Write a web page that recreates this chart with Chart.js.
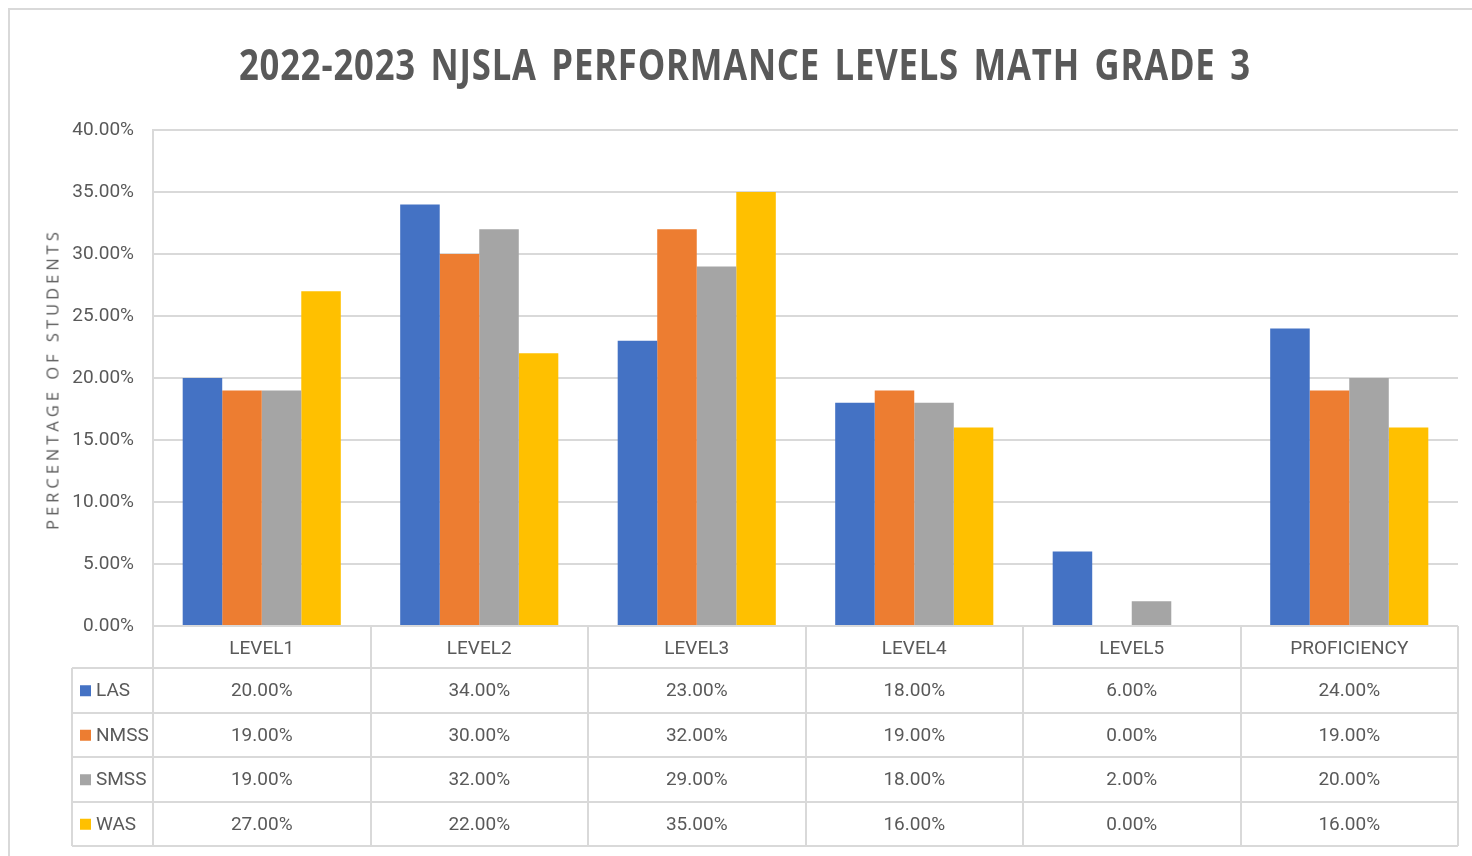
<!DOCTYPE html>
<html lang="en">
<head>
  <meta charset="UTF-8">
  <title>2022-2023 NJSLA Performance Levels Math Grade 3</title>
  <script src="https://cdn.jsdelivr.net/npm/chart.js"></script>
  <style>
    html, body {
      margin: 0;
      padding: 0;
      background: #ffffff;
      overflow: hidden;
    }

    .frame {
      position: absolute;
      left: 8px;
      top: 8px;
      width: 1500px;
      height: 900px;
      border-left: 2px solid #d9d9d9;
      border-top: 2px solid #d9d9d9;
    }

    #chartWrap {
      position: absolute;
      left: 0;
      top: 0;
      width: 1472px;
      height: 856px;
    }

    .title {
      position: absolute;
      top: 34px;
      left: 0;
      width: 1490px;
      text-align: center;
      font-family: "Open Sans", sans-serif;
      font-weight: bold;
      font-size: 43px;
      color: #595959;
      white-space: nowrap;
    }

    .title span {
      display: inline-block;
      letter-spacing: 1px;
      word-spacing: 6px;
      transform-origin: center;
    }

    .ytitle {
      position: absolute;
      left: 52px;
      top: 379px;
      transform: translate(-50%, -50%) rotate(-90deg);
      font-family: "Open Sans", sans-serif;
      font-size: 16.5px;
      letter-spacing: 4px;
      color: #595959;
      white-space: nowrap;
    }
  </style>
</head>
<body>
  <div class="frame"></div>
  <div id="chartWrap"><canvas id="mathChart" width="1472" height="856"></canvas></div>
  <div class="title"><span id="titleText">2022-2023 NJSLA PERFORMANCE LEVELS MATH GRADE 3</span></div>
  <div class="ytitle">PERCENTAGE OF STUDENTS</div>

  <script>
    const categories = ['LEVEL1', 'LEVEL2', 'LEVEL3', 'LEVEL4', 'LEVEL5', 'PROFICIENCY'];
    const las  = [20, 34, 23, 18, 6, 24];
    const nmss = [19, 30, 32, 19, 0, 19];
    const smss = [19, 32, 29, 18, 2, 20];
    const was  = [27, 22, 35, 16, 0, 16];
    const yTicks = [0, 5, 10, 15, 20, 25, 30, 35, 40];

    const textColor = '#595959';
    const lineColor = '#d9d9d9';
    const fontFamily = '"Liberation Sans Narrow", "Roboto", sans-serif';
    const tableFont = '19px ' + fontFamily;

    // squeeze the title to the width it has in the original
    const titleSpan = document.getElementById('titleText');
    const wanted = 1012;
    titleSpan.style.transform = `scaleX(${wanted / titleSpan.offsetWidth})`;

    const fmt = v => v.toFixed(2) + '%';

    // data table under the plot, columns follow the x scale
    const dataTable = {
      id: 'dataTable',
      afterDraw(chart) {
        const ctx = chart.ctx;
        const x = chart.scales.x;
        const area = chart.chartArea;
        const step = x.getPixelForValue(1) - x.getPixelForValue(0);
        const left = x.getPixelForValue(0) - step / 2;
        const right = x.getPixelForValue(categories.length - 1) + step / 2;
        const headTop = area.bottom;
        const headBottom = headTop + 42;
        const rowH = 44.5;
        const legendLeft = 72;
        const rows = chart.data.datasets;
        const tableBottom = headBottom + rowH * rows.length;

        ctx.save();
        ctx.strokeStyle = lineColor;
        ctx.lineWidth = 2;
        ctx.beginPath();
        // verticals between the categories
        for (let i = 0; i <= categories.length; i++) {
          const xx = Math.round(left + i * step);
          ctx.moveTo(xx, headTop);
          ctx.lineTo(xx, tableBottom);
        }
        ctx.moveTo(legendLeft, headBottom);
        ctx.lineTo(legendLeft, tableBottom);
        // horizontals
        for (let r = 0; r <= rows.length; r++) {
          const yy = Math.round(headBottom + r * rowH);
          ctx.moveTo(legendLeft, yy);
          ctx.lineTo(right, yy);
        }
        ctx.stroke();

        ctx.font = tableFont;
        ctx.fillStyle = textColor;
        ctx.textBaseline = 'middle';
        rows.forEach((ds, r) => {
          const cy = headBottom + r * rowH + rowH / 2 + 1;
          ctx.fillStyle = ds.backgroundColor;
          ctx.fillRect(80, cy - 6, 11, 11);
          ctx.fillStyle = textColor;
          ctx.textAlign = 'left';
          ctx.fillText(ds.label, 96, cy);
          ctx.textAlign = 'center';
          ds.data.forEach((v, i) => {
            ctx.fillText(fmt(v), x.getPixelForValue(i), cy);
          });
        });
        ctx.restore();
      }
    };

    const ctx = document.getElementById('mathChart').getContext('2d');
    new Chart(ctx, {
      type: 'bar',
      data: {
        labels: categories,
        datasets: [
          { label: 'LAS', data: las, backgroundColor: '#4472c4' },
          { label: 'NMSS', data: nmss, backgroundColor: '#ed7d31' },
          { label: 'SMSS', data: smss, backgroundColor: '#a5a5a5' },
          { label: 'WAS', data: was, backgroundColor: '#ffc000' }
        ]
      },
      options: {
        responsive: false,
        animation: false,
        devicePixelRatio: 1,
        layout: { padding: { left: 40, top: 130, right: 14, bottom: 188 } },
        datasets: {
          bar: { categoryPercentage: 0.727, barPercentage: 1 }
        },
        plugins: {
          legend: { display: false },
          tooltip: { enabled: false }
        },
        scales: {
          x: {
            grid: { display: false },
            border: { display: false },
            ticks: {
              color: textColor,
              padding: 4,
              font: { family: fontFamily, size: 19 }
            },
            afterFit: s => { s.height = 42; }
          },
          y: {
            min: 0,
            max: 40,
            afterBuildTicks: s => { s.ticks = yTicks.map(v => ({ value: v })); },
            grid: { color: lineColor, lineWidth: 2, drawTicks: false },
            border: { display: true, color: lineColor, width: 2 },
            ticks: {
              color: textColor,
              padding: 19,
              font: { family: fontFamily, size: 19 },
              callback: v => fmt(v)
            },
            afterFit: s => { s.width = 113; }
          }
        }
      },
      plugins: [dataTable]
    });
  </script>
</body>
</html>
